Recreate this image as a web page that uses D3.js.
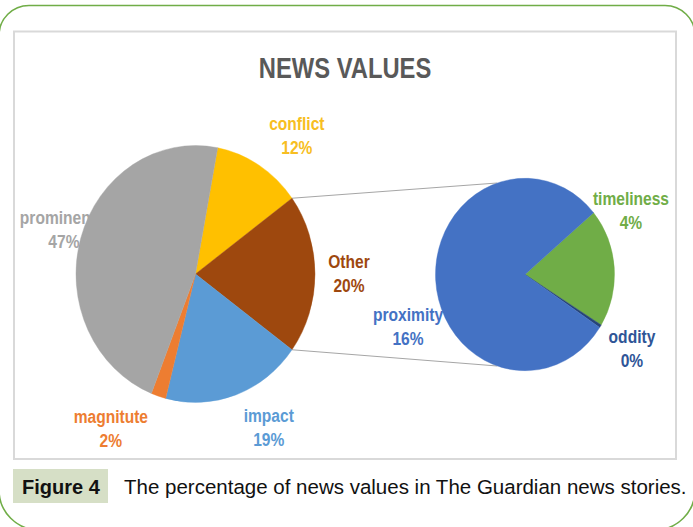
<!DOCTYPE html>
<html>
<head>
<meta charset="utf-8">
<script src="https://cdn.jsdelivr.net/npm/d3@7"></script>
<style>
  html, body { margin: 0; padding: 0; background: #ffffff; }
  svg { display: block; }
  text { font-family: "Liberation Sans", Arial, sans-serif; }
  .lbl { font-weight: bold; font-size: 19px; }
</style>
</head>
<body>
<svg id="chart" width="693" height="527"></svg>
<script>
// Main pie: share of each news value (percent)
const mainCategories = ["conflict", "Other", "impact", "magnitute", "prominence"];
// Breakdown of the "Other" slice shown in the secondary pie
const subCategories = ["timeliness", "oddity", "proximity"];
const subValues = [4, 0.1, 16];
const otherValue = d3.sum(subValues);
const mainValues = [12, otherValue, 19, 2, 47];

const mainColors = ["#FFC000", "#9E480E", "#5B9BD5", "#ED7D31", "#A5A5A5"];
const subColors = ["#70AD47", "#264478", "#4472C4"];
const labelColors = {
  conflict: "#F7BE22", Other: "#9E480E", impact: "#5B9BD5", magnitute: "#ED7D31",
  prominence: "#A5A5A5", timeliness: "#70AD47", oddity: "#2F5597", proximity: "#4472C4"
};

const titleText = "NEWS VALUES";
const figureTag = "Figure 4";
const captionText = "The percentage of news values in The Guardian news stories.";

// ---- layout ----
const svg = d3.select("#chart");
const deg = Math.PI / 180;
const squash = 1.075;              // pies are drawn slightly taller than wide
const narrow = 0.82;               // horizontal condensing of chart text
const main = { cx: 195.5, cy: 274, r: 119.5 };
const sub = { cx: 525, cy: 274.5, r: 89.5, start: 50 * deg };

// label offsets from the outer edge of each slice, at its middle angle
const labelNudge = {
  conflict: [37.5, -35.5], Other: [34, -6], impact: [33, 27], magnitute: [-47.6, 26.8],
  prominence: [-16.8, -14], timeliness: [16.7, -62.5], oddity: [31.5, 16.8], proximity: [-27.6, 41]
};

// outer green frame (smaller radius on top corners)
(function frame() {
  const x0 = -1, x1 = 695, y0 = 5.5, y1 = 530, rt = 30, rb = 40;
  const p = d3.path();
  p.moveTo(x0 + rt, y0);
  p.lineTo(x1 - rt, y0);
  p.arcTo(x1, y0, x1, y0 + rt, rt);
  p.lineTo(x1, y1 - rb);
  p.arcTo(x1, y1, x1 - rb, y1, rb);
  p.lineTo(x0 + rb, y1);
  p.arcTo(x0, y1, x0, y1 - rb, rb);
  p.lineTo(x0, y0 + rt);
  p.arcTo(x0, y0, x0 + rt, y0, rt);
  p.closePath();
  svg.append("path").attr("d", p.toString())
    .attr("fill", "none").attr("stroke", "#70AD47").attr("stroke-width", 1.6);
})();

// chart area border
svg.append("rect")
  .attr("x", 14).attr("y", 31.5).attr("width", 662).attr("height", 427.5)
  .attr("fill", "#ffffff").attr("stroke", "#D9D9D9").attr("stroke-width", 2);

// title
svg.append("text")
  .attr("transform", `translate(345,78) scale(${narrow},1)`)
  .attr("text-anchor", "middle")
  .style("font-weight", "bold").style("font-size", "29px")
  .attr("fill", "#595959")
  .text(titleText);

// ---- pie layouts ----
const mainTotal = d3.sum(mainValues);
// rotate so the "Other" slice faces the secondary pie (centred at 90°)
const before = mainValues[0] + mainValues[1] / 2;
const mainStart = Math.PI / 2 - before / mainTotal * 2 * Math.PI;

const mainPie = d3.pie().sort(null).value(d => d.v)
  .startAngle(mainStart).endAngle(mainStart + 2 * Math.PI);
const subPie = d3.pie().sort(null).value(d => d.v)
  .startAngle(sub.start).endAngle(sub.start + 2 * Math.PI);

const mainArcs = mainPie(mainCategories.map((c, i) => ({ c, v: mainValues[i], col: mainColors[i] })));
const subArcs = subPie(subCategories.map((c, i) => ({ c, v: subValues[i], col: subColors[i] })));

const edgePoint = (g, a) => [g.cx + g.r * Math.sin(a), g.cy - g.r * Math.cos(a) * squash];
const fmt = v => Math.round(v) + "%";

// labels (drawn under the pies, as the long "prominence" label is partly covered)
function drawLabels(g, arcs) {
  arcs.forEach(a => {
    const mid = (a.startAngle + a.endAngle) / 2;
    const [ex, ey] = edgePoint(g, mid);
    const [dx, dy] = labelNudge[a.data.c];
    const t = svg.append("text").attr("class", "lbl")
      .attr("transform", `translate(${ex + dx},${ey + dy}) scale(${narrow},1)`)
      .attr("text-anchor", "middle").attr("fill", labelColors[a.data.c]);
    t.append("tspan").attr("x", 0).attr("y", 0).text(a.data.c);
    t.append("tspan").attr("x", 0).attr("y", 24).text(fmt(a.data.v));
  });
}
drawLabels(main, mainArcs);
drawLabels(sub, subArcs);

// connector lines from the "Other" slice to the secondary pie
const other = mainArcs[1];
const tilt = 18 * deg;
const pA = edgePoint(main, other.startAngle), pB = edgePoint(main, other.endAngle);
const qA = edgePoint(sub, -tilt), qB = edgePoint(sub, Math.PI + tilt);
svg.append("g").selectAll("line").data([[pA, qA], [pB, qB]]).join("line")
  .attr("x1", d => d[0][0]).attr("y1", d => d[0][1])
  .attr("x2", d => d[1][0]).attr("y2", d => d[1][1])
  .attr("stroke", "#A6A6A6").attr("stroke-width", 1);

function drawPie(g, arcs) {
  const arc = d3.arc().innerRadius(0).outerRadius(g.r);
  svg.append("g")
    .attr("transform", `translate(${g.cx},${g.cy}) scale(1,${squash})`)
    .selectAll("path").data(arcs).join("path")
    .attr("d", arc)
    .attr("fill", d => d.data.col)
    .attr("stroke", d => d.data.col).attr("stroke-width", 0.4);
}
drawPie(main, mainArcs);
drawPie(sub, subArcs);

// figure caption
svg.append("rect").attr("x", 13).attr("y", 469).attr("width", 95).attr("height", 34)
  .attr("fill", "#D6DFC6");
svg.append("text").attr("x", 22).attr("y", 494)
  .style("font-weight", "bold").style("font-size", "20px").attr("fill", "#111111")
  .text(figureTag);
svg.append("text").attr("x", 124).attr("y", 494)
  .style("font-size", "20.5px").attr("fill", "#111111")
  .text(captionText);
</script>
</body>
</html>
